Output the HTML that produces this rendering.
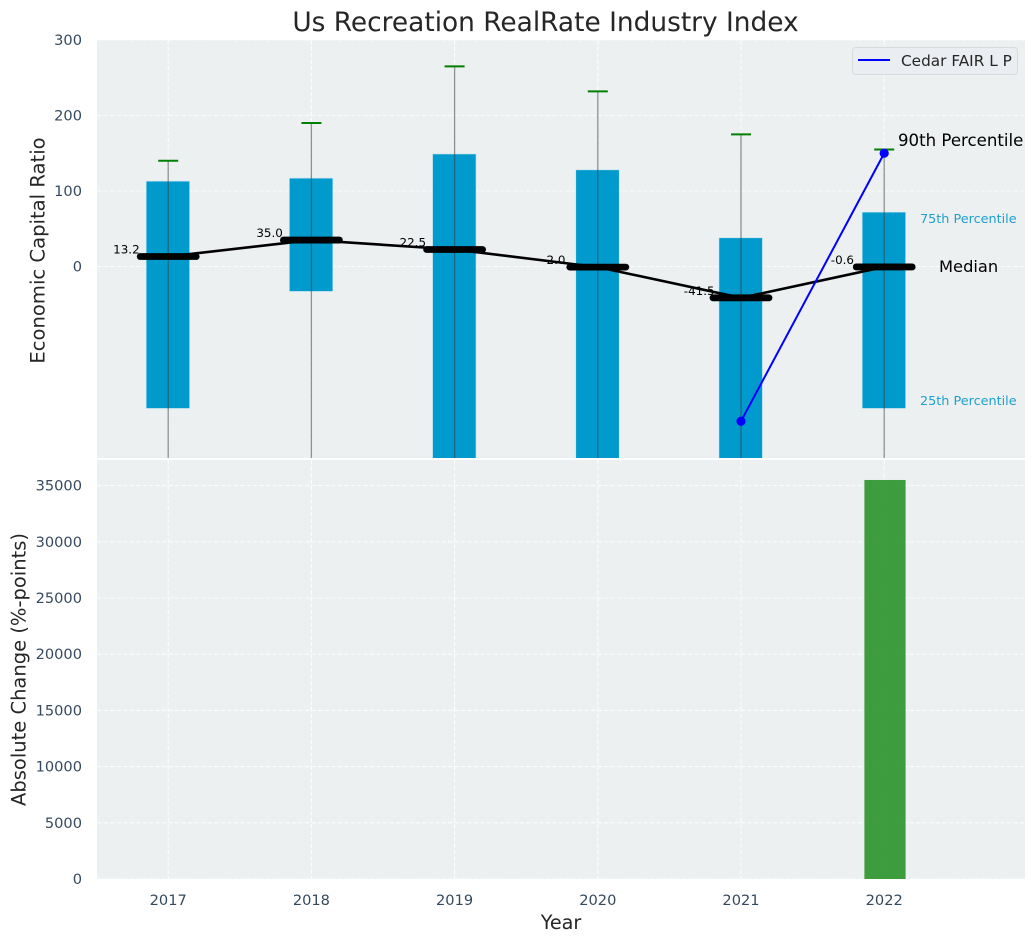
<!DOCTYPE html>
<html lang="en">
<head>
<meta charset="utf-8">
<title>Us Recreation RealRate Industry Index</title>
<style>
html,body{margin:0;padding:0;background:#fff;width:1036px;height:942px;overflow:hidden}
svg{display:block;font-family:"DejaVu Sans","Liberation Sans",sans-serif}
</style>
</head>
<body>
<svg id="chart" width="1036" height="942" viewBox="0 0 1036 942" xmlns="http://www.w3.org/2000/svg">
  <defs>
    <clipPath id="top-clip"><rect x="97" y="40" width="928" height="418"/></clipPath>
  </defs>
  <rect x="97" y="40" width="928" height="418" fill="#ecf0f1"/>
  <rect x="97" y="460" width="928" height="419" fill="#ecf0f1"/>
  <g id="grid"></g>
  <g id="top-marks" clip-path="url(#top-clip)"></g>
  <g id="bottom-marks"></g>
  <g id="labels"></g>

  <text x="545.5" y="31" text-anchor="middle" font-size="26.4" fill="#262626">Us Recreation RealRate Industry Index</text>
  <text transform="translate(44.5,250.5) rotate(-90)" text-anchor="middle" font-size="19.6" fill="#262626">Economic Capital Ratio</text>
  <text transform="translate(25.5,669.5) rotate(-90)" text-anchor="middle" font-size="19.5" fill="#262626">Absolute Change (%-points)</text>
  <text x="561" y="929" text-anchor="middle" font-size="19.2" fill="#262626">Year</text>

  <text x="898" y="146" font-size="16.6" fill="#000">90th Percentile</text>
  <text x="920" y="223" font-size="12.8" fill="#1f9fcf">75th Percentile</text>
  <text x="939" y="272" font-size="16.3" fill="#000">Median</text>
  <text x="920" y="405" font-size="12.8" fill="#1f9fcf">25th Percentile</text>

  <g>
    <rect x="852.5" y="47.5" width="165" height="27" rx="3" fill="#eaedf1" stroke="#d8dbde" stroke-width="1"/>
    <line x1="858" y1="60" x2="890" y2="60" stroke="#0000ff" stroke-width="2"/>
    <text x="901" y="66" font-size="15.3" fill="#262626">Cedar FAIR L P</text>
  </g>
</svg>
<script>
var years = [2017, 2018, 2019, 2020, 2021, 2022];
var q75 = [113, 117, 149, 128, 38, 72];
var q25 = [-188, -33, -300, -300, -300, -188];
var p90 = [140, 190, 265, 232, 175, 155];
var p10 = [-300, -300, -300, -300, -300, -300];
var medians = [13.2, 35.0, 22.5, -0.8, -41.5, -0.6];
var medianLabels = ['13.2', '35.0', '22.5', '2.0', '-41.5', '-0.6'];
var companySeries = [null, null, null, null, -205, 150];
var changes = [0, 0, 0, 0, 0, 35500];
var topTicks = [0, 100, 200, 300];
var bottomTicks = [0, 5000, 10000, 15000, 20000, 25000, 30000, 35000];

var NS = 'http://www.w3.org/2000/svg';
function xAxis(year) { return 168.2 + (year - 2017) * 143.2; }
function yTop(v) { return 266.5 - v * 0.755; }
function yBottom(v) { return 879 - v * 0.01124; }
function mk(parent, tag, attrs) {
  var el = document.createElementNS(NS, tag);
  for (var k in attrs) el.setAttribute(k, attrs[k]);
  parent.appendChild(el);
  return el;
}
var grid = document.getElementById('grid');
var topMarks = document.getElementById('top-marks');
var bottomMarks = document.getElementById('bottom-marks');
var labels = document.getElementById('labels');
var gridStyle = { stroke: '#ffffff', 'stroke-width': 1.1, 'stroke-dasharray': '4.5 2', opacity: 0.85 };

function gridLine(x1, y1, x2, y2) {
  var attrs = { x1: x1, y1: y1, x2: x2, y2: y2 };
  for (var k in gridStyle) attrs[k] = gridStyle[k];
  return mk(grid, 'line', attrs);
}

years.forEach(function (yr) {
  var x = xAxis(yr);
  var g1 = gridLine(x, 40, x, 458);
  
  
  var g2 = gridLine(x, 460, x, 879);
  
  
  var t = mk(labels, 'text', { x: x, y: 905, 'text-anchor': 'middle', 'font-size': 14.6, fill: '#34495e' });
  t.textContent = String(yr);
  
  
});

topTicks.forEach(function (v) {
  var y = yTop(v);
  var g = gridLine(97, y, 1025, y);
  
  
  var t = mk(labels, 'text', { x: 82, y: y + 5, 'text-anchor': 'end', 'font-size': 14.6, fill: '#34495e' });
  t.textContent = String(v);
  
  
});

bottomTicks.forEach(function (v) {
  var y = yBottom(v);
  var g = gridLine(97, y, 1025, y);
  
  
  var t = mk(labels, 'text', { x: 82, y: y + 5, 'text-anchor': 'end', 'font-size': 14.6, fill: '#34495e' });
  t.textContent = String(v);
  
  
});

// interquartile boxes
years.forEach(function (yr, i) {
  var x = xAxis(yr);
  var box = mk(topMarks, 'rect', {
    x: x - 22, y: yTop(q75[i]), width: 43.4, height: yTop(q25[i]) - yTop(q75[i]),
    fill: '#009acd', stroke: '#bfe3f0', 'stroke-width': 0.6
  });
  
  
});

// whiskers and caps
years.forEach(function (yr, i) {
  var x = xAxis(yr);
  var w = mk(topMarks, 'line', {
    x1: x, y1: yTop(p90[i]), x2: x, y2: yTop(p10[i]),
    stroke: '#3a3f42', 'stroke-width': 1.3, opacity: 0.55
  });
  
  
  var c = mk(topMarks, 'line', {
    x1: x - 10, y1: yTop(p90[i]), x2: x + 10, y2: yTop(p90[i]),
    stroke: '#008000', 'stroke-width': 2
  });
  
  
});

// median labels
years.forEach(function (yr, i) {
  var t = mk(topMarks, 'text', {
    x: xAxis(yr) - 41.8, y: yTop(medians[i]) - 3, 'text-anchor': 'middle', 'font-size': 11.9, fill: '#000'
  });
  t.textContent = medianLabels[i];
  
  
});

// median trend line
var medianPts = years.map(function (yr, i) { return xAxis(yr) + ',' + yTop(medians[i]); }).join(' ');
var trend = mk(topMarks, 'polyline', { points: medianPts, fill: 'none', stroke: '#000', 'stroke-width': 2.6 });



// median bars
years.forEach(function (yr, i) {
  var x = xAxis(yr);
  var m = mk(topMarks, 'line', {
    x1: x - 28, y1: yTop(medians[i]), x2: x + 28, y2: yTop(medians[i]),
    stroke: '#000', 'stroke-width': 6.8, 'stroke-linecap': 'round'
  });
  
  
});

// company series
var companyPts = [];
years.forEach(function (yr, i) {
  if (companySeries[i] !== null) companyPts.push(xAxis(yr) + ',' + yTop(companySeries[i]));
});
var companyLine = mk(topMarks, 'polyline', { points: companyPts.join(' '), fill: 'none', stroke: '#0000ff', 'stroke-width': 2 });


years.forEach(function (yr, i) {
  if (companySeries[i] === null) return;
  var p = mk(topMarks, 'circle', { cx: xAxis(yr), cy: yTop(companySeries[i]), r: 4.6, fill: '#0000ff' });
  
  
});

// absolute change bars
years.forEach(function (yr, i) {
  if (!changes[i]) return;
  var b = mk(bottomMarks, 'rect', {
    x: xAxis(yr) - 19.8, y: yBottom(changes[i]), width: 41.2, height: yBottom(0) - yBottom(changes[i]),
    fill: '#2f962f', opacity: 0.93
  });
  
  
});
</script>
</body>
</html>
